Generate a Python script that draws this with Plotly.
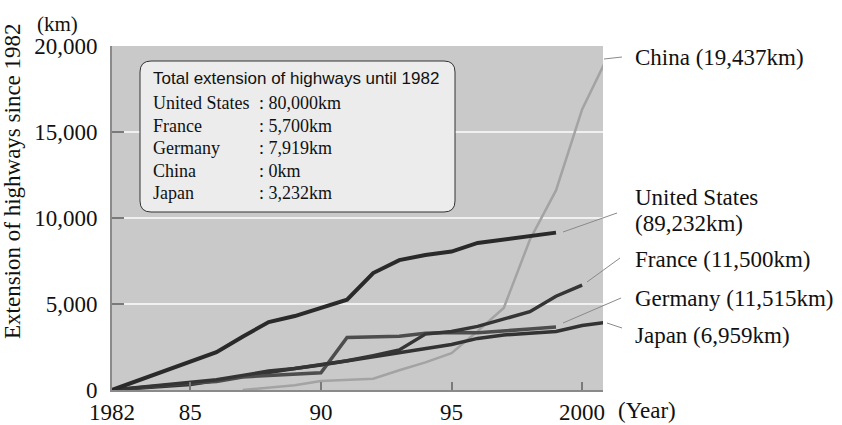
import plotly.graph_objects as go

# ---- data (km of highway added since 1982) ----
years_us = list(range(1982, 2000))
us = [0, 550, 1100, 1650, 2200, 3100, 3950, 4300, 4750, 5250, 6800, 7550, 7850, 8050, 8550, 8750, 8900, 9150]

years_fr = list(range(1982, 2001))
france = [0, 150, 300, 450, 600, 850, 1100, 1250, 1450, 1700, 2000, 2330, 3250, 3400, 3700, 4150, 4550, 5450, 6100]

years_de = list(range(1982, 2000))
germany = [0, 150, 300, 400, 500, 750, 850, 920, 1000, 3050, 3080, 3120, 3300, 3350, 3330, 3420, 3540, 3660]

years_jp = list(range(1982, 2002))
japan = [0, 100, 200, 323, 550, 800, 1000, 1250, 1450, 1700, 1950, 2150, 2400, 2650, 3000, 3200, 3300, 3400, 3750, 3950]

years_cn = list(range(1987, 2002))
china = [0, 147, 271, 522, 574, 652, 1145, 1603, 2141, 3422, 4771, 8733, 11605, 16314, 19437]

x_tickvals = [1982, 1985, 1990, 1995, 2000]
x_ticktext = ["1982", "85", "90", "95", "2000"]
y_tickvals = [0, 5000, 10000, 15000, 20000]
y_ticktext = ["0", "5,000", "10,000", "15,000", "20,000"]

end_labels = ["China (19,437km)", "United States", "(89,232km)", "France (11,500km)",
              "Germany (11,515km)", "Japan (6,959km)"]
box_title = "Total extension of highways until 1982"
box_names = ["United States", "France", "Germany", "China", "Japan"]
box_values = ["80,000km", "5,700km", "7,919km", "0km", "3,232km"]

# ---- layout geometry (pixels) ----
W, H = 842, 425
L, R, T, B = 112, 603, 46, 390
PW, PH = R - L, B - T

def px(x):
    return (x - L) / PW

def py(y):
    return (B - y) / PH

SERIF = "Liberation Serif"
SANS = "Liberation Sans"

fig = go.Figure()
series = [
    (years_cn, china, "#a3a3a3", 2.5),
    (years_jp, japan, "#333333", 3.5),
    (years_de, germany, "#4d4d4d", 3.5),
    (years_fr, france, "#353535", 3.5),
    (years_us, us, "#2a2a2a", 4),
]
for xs, ys, col, w in series:
    fig.add_trace(go.Scatter(x=xs, y=ys, mode="lines",
                             line=dict(color=col, width=w), showlegend=False,
                             hoverinfo="skip"))

shapes = []
# leader lines
leaders = [((604, 59), (622, 57)),
           ((563, 232), (617, 213)),
           ((587, 282), (620, 258)),
           ((563, 323), (621, 298)),
           ((607, 323), (622, 328))]
for (x0, y0), (x1, y1) in leaders:
    shapes.append(dict(type="line", xref="paper", yref="paper",
                       x0=px(x0), y0=py(y0), x1=px(x1), y1=py(y1),
                       line=dict(color="#8a8a8a", width=1)))

# rounded info box
bx0, by0, bx1, by1, rad = 140, 61, 455, 212, 11
rx, ry = rad / PW, rad / PH
X0, X1, Y0, Y1 = px(bx0), px(bx1), py(by0), py(by1)  # Y0 top, Y1 bottom
path = (f"M {X0+rx},{Y0} L {X1-rx},{Y0} Q {X1},{Y0} {X1},{Y0-ry} "
        f"L {X1},{Y1+ry} Q {X1},{Y1} {X1-rx},{Y1} "
        f"L {X0+rx},{Y1} Q {X0},{Y1} {X0},{Y1+ry} "
        f"L {X0},{Y0-ry} Q {X0},{Y0} {X0+rx},{Y0} Z")
shapes.append(dict(type="path", xref="paper", yref="paper", path=path,
                   fillcolor="#ececec", line=dict(color="#333333", width=1)))

ann = []
# end labels
label_y = [58, 197, 223, 259, 298, 335]
for txt, yy in zip(end_labels, label_y):
    ann.append(dict(text=txt, x=px(633), y=py(yy), xref="paper", yref="paper",
                    xanchor="left", yanchor="middle", showarrow=False,
                    font=dict(family=SERIF, size=23, color="#111")))

# box text
ann.append(dict(text=box_title, x=px(151), y=py(79), xref="paper", yref="paper",
                xanchor="left", yanchor="middle", showarrow=False,
                font=dict(family=SANS, size=17, color="#111")))
row_y = [103, 126, 148, 171, 193]
for name, val, yy in zip(box_names, box_values, row_y):
    ann.append(dict(text=name, x=px(151), y=py(yy), xref="paper", yref="paper",
                    xanchor="left", yanchor="middle", showarrow=False,
                    font=dict(family=SERIF, size=18, color="#111")))
    ann.append(dict(text=":\u00a0" + val, x=px(257), y=py(yy), xref="paper", yref="paper",
                    xanchor="left", yanchor="middle", showarrow=False,
                    font=dict(family=SERIF, size=18, color="#111")))

# axis units / titles
ann.append(dict(text="(km)", x=px(57), y=py(24), xref="paper", yref="paper",
                xanchor="center", yanchor="middle", showarrow=False,
                font=dict(family=SERIF, size=21, color="#111")))
ann.append(dict(text="(Year)", x=px(647), y=py(411), xref="paper", yref="paper",
                xanchor="center", yanchor="middle", showarrow=False,
                font=dict(family=SERIF, size=23, color="#111")))
ann.append(dict(text="Extension of highways since 1982", x=px(12), y=py(181),
                xref="paper", yref="paper", xanchor="center", yanchor="middle",
                textangle=-90, showarrow=False,
                font=dict(family=SERIF, size=23, color="#111")))

fig.update_layout(
    width=W, height=H,
    margin=dict(l=L, r=W - R, t=T, b=H - B, pad=0),
    paper_bgcolor="white", plot_bgcolor="#c9c9c9",
    shapes=shapes, annotations=ann, showlegend=False,
    xaxis=dict(range=[1982, 2000.8], tickvals=x_tickvals, ticktext=x_ticktext,
               ticks="inside", ticklen=8, tickwidth=1.5, tickcolor="#7a7a7a",
               showgrid=False, zeroline=False, showline=True, linecolor="#8a8a8a",
               linewidth=2, tickfont=dict(family=SERIF, size=23, color="#111"),
               ticklabelstandoff=0, automargin=False),
    yaxis=dict(range=[0, 20000], tickvals=y_tickvals, ticktext=y_ticktext,
               ticks="inside", ticklen=12, tickwidth=1.5, tickcolor="#7a7a7a",
               showgrid=True, gridcolor="#f0f0f0", gridwidth=2, zeroline=False,
               showline=True, linecolor="#8a8a8a", linewidth=2,
               tickfont=dict(family=SERIF, size=23, color="#111"),
               ticklabelstandoff=8, automargin=False),
)

fig.write_html("out.html", config={"displayModeBar": False},
               post_script="document.body.style.margin='0';")
